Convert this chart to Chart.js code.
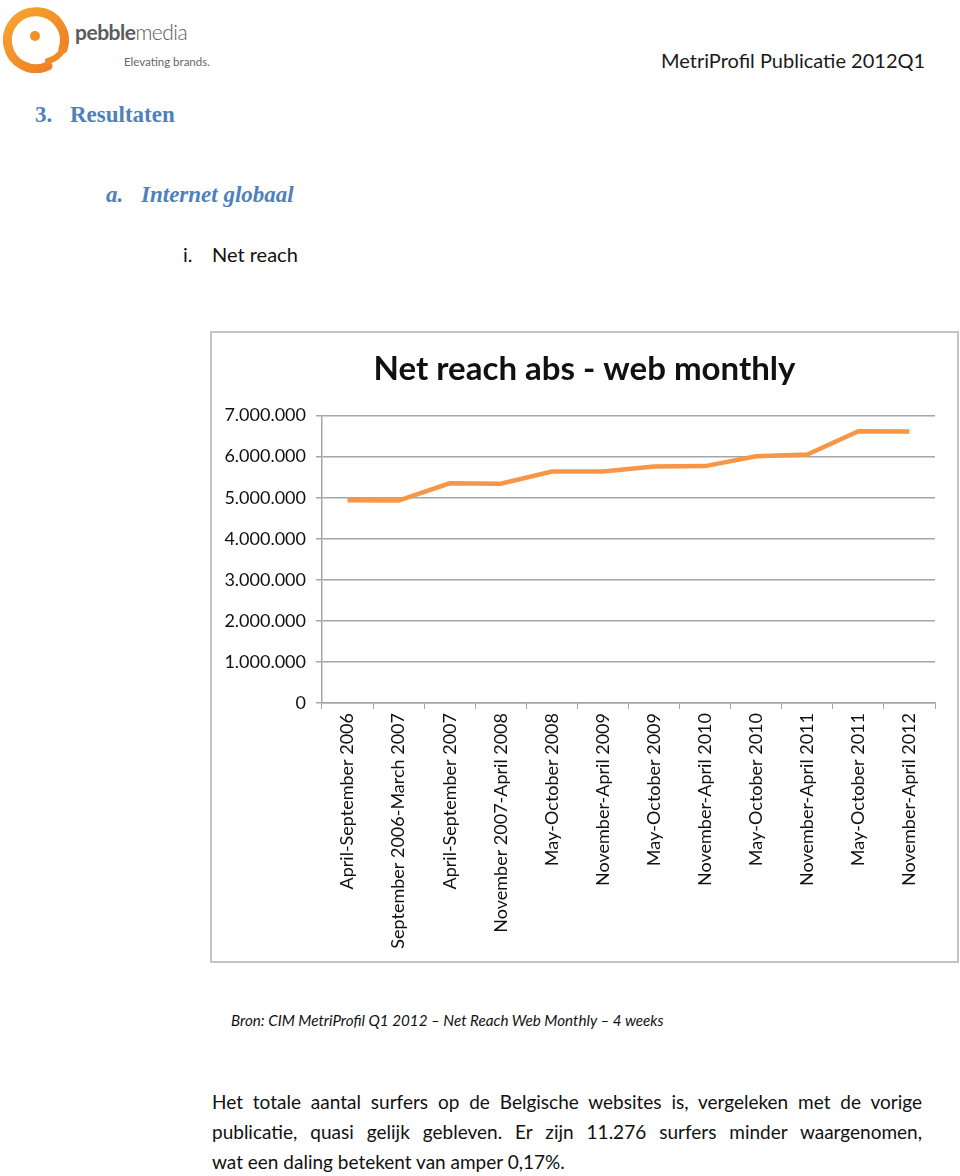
<!DOCTYPE html>
<html>
<head>
<meta charset="utf-8">
<script src="https://cdn.jsdelivr.net/npm/chart.js@4/dist/chart.umd.min.js"></script>
<style>
  body { margin: 0; width: 960px; height: 1176px; position: relative; background: #fff; font-family: Lato, "Open Sans", sans-serif; color: #111; }
  .abs { position: absolute; white-space: nowrap; }
  #logo { left: 2px; top: 3px; }
  #brand { left: 75px; top: 19px; font-size: 21px; color: #5a5b5d; letter-spacing: -0.5px; }
  #brand b { font-weight: 700; }
  #brand span { font-weight: 300; }
  #tagline { left: 124px; top: 55px; font-size: 11.5px; color: #666; }
  #pub { left: 661px; top: 48px; font-size: 20px; color: #1a1a1a; }
  .kop { font-family: "Liberation Serif", serif; font-weight: bold; font-size: 23px; color: #4f81bd; }
  #h1n { left: 35px; top: 102px; }
  #h1t { left: 70px; top: 102px; }
  #h2n { left: 106px; top: 182px; font-style: italic; }
  #h2t { left: 141px; top: 182px; font-style: italic; }
  #h3n { left: 183px; top: 242px; font-size: 20px; }
  #h3t { left: 212px; top: 242px; font-size: 20px; }
  #box { position: absolute; left: 210px; top: 331px; width: 745px; height: 628px; border: 2px solid #c4c4c4; }
  #bron { left: 231px; top: 1011px; font-size: 15.2px; font-style: italic; }
  .para { position: absolute; left: 212px; width: 710px; font-size: 19px; text-align: justify; text-align-last: justify; white-space: nowrap; }
  .para.last { text-align-last: left; }
</style>
</head>
<body>
<svg id="logo" class="abs" width="70" height="70" viewBox="0 0 70 70">
  <defs>
    <linearGradient id="lg" x1="0" y1="0" x2="1" y2="1">
      <stop offset="0" stop-color="#f7a531"/>
      <stop offset="1" stop-color="#ee7a22"/>
    </linearGradient>
  </defs>
  <path d="M 46 63 A 28.5 28.5 0 1 1 61 46" fill="none" stroke="url(#lg)" stroke-width="9" stroke-linecap="round"/>
  <path d="M 61 46 Q 57 55 46 58" fill="none" stroke="#f08a26" stroke-width="6" stroke-linecap="round"/>
  <circle cx="33" cy="33" r="5" fill="#f39028"/>
</svg>
<div id="brand" class="abs"><b>pebble</b><span>media</span></div>
<div id="tagline" class="abs">Elevating brands.</div>
<div id="pub" class="abs">MetriProfil Publicatie 2012Q1</div>
<div id="h1n" class="abs kop">3.</div>
<div id="h1t" class="abs kop">Resultaten</div>
<div id="h2n" class="abs kop">a.</div>
<div id="h2t" class="abs kop">Internet globaal</div>
<div id="h3n" class="abs">i.</div>
<div id="h3t" class="abs">Net reach</div>

<div id="box"><canvas id="grafico" width="745" height="628"></canvas></div>

<div id="bron" class="abs">Bron: CIM MetriProfil Q1 2012 – Net Reach Web Monthly – 4 weeks</div>
<div class="para" style="top:1090px">Het totale aantal surfers op de Belgische websites is, vergeleken met de vorige</div>
<div class="para" style="top:1120px">publicatie, quasi gelijk gebleven. Er zijn 11.276 surfers minder waargenomen,</div>
<div class="para last" style="top:1150px">wat een daling betekent van amper 0,17%.</div>

<script>
const periodes = [
  'April-September 2006',
  'September 2006-March 2007',
  'April-September 2007',
  'November 2007-April 2008',
  'May-October 2008',
  'November-April 2009',
  'May-October 2009',
  'November-April 2010',
  'May-October 2010',
  'November-April 2011',
  'May-October 2011',
  'November-April 2012'
];
const netReach = [4940000, 4930000, 5350000, 5340000, 5640000, 5640000, 5760000, 5770000, 6010000, 6050000, 6620000, 6610000];
const yMin = 0;
const yMax = 7000000;
const yStap = 1000000;

function formatPunt(v) {
  return String(v).replace(/\B(?=(\d{3})+(?!\d))/g, '.');
}

const grijs = '#a6a6a6';
const ctx = document.getElementById('grafico').getContext('2d');
new Chart(ctx, {
  type: 'line',
  data: {
    labels: periodes,
    datasets: [{
      label: 'Net reach',
      data: netReach,
      borderColor: '#f79646',
      borderWidth: 4.5,
      pointRadius: 0,
      tension: 0,
      fill: false
    }]
  },
  options: {
    responsive: false,
    animation: false,
    layout: { padding: 0 },
    plugins: {
      legend: { display: false },
      tooltip: { enabled: false },
      title: {
        display: true,
        text: 'Net reach abs - web monthly',
        color: '#111',
        font: { family: 'Lato', size: 33, weight: 'bold' },
        padding: { top: 17, bottom: 26 }
      }
    },
    scales: {
      x: {
        offset: true,
        grid: { offset: true, drawOnChartArea: false, drawTicks: true, tickLength: 6, color: grijs },
        border: { display: true, color: grijs, width: 1.5 },
        ticks: {
          color: '#111',
          font: { family: 'Lato', size: 18 },
          maxRotation: 90,
          minRotation: 90,
          autoSkip: false,
          padding: 4
        },
        afterFit: s => { s.height = 258; }
      },
      y: {
        min: yMin,
        max: yMax,
        grid: { color: grijs, lineWidth: 1.5, tickLength: 6 },
        border: { display: true, color: grijs, width: 1.5 },
        ticks: {
          stepSize: yStap,
          color: '#111',
          font: { family: 'Lato', size: 18 },
          padding: 10,
          callback: v => formatPunt(v)
        },
        afterFit: s => { s.width = 110; }
      },
      rechts: {
        type: 'linear',
        position: 'right',
        grid: { display: false, drawTicks: false },
        border: { display: false },
        ticks: { display: false },
        afterFit: s => { s.width = 22; }
      }
    }
  }
});
</script>
</body>
</html>
